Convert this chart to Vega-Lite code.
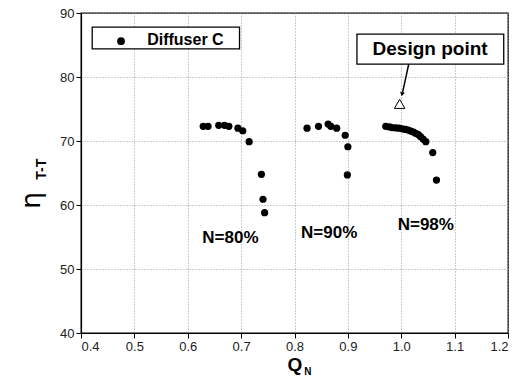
{
  "$schema": "https://vega.github.io/schema/vega-lite/v6.json",
  "width": 427,
  "height": 320,
  "autosize": "none",
  "padding": {"left": 81, "top": 13, "right": 20, "bottom": 55},
  "background": "white",
  "config": {
    "font": "Liberation Sans",
    "view": {"stroke": "black", "strokeWidth": 1.3},
    "axis": {
      "domainColor": "black",
      "domainWidth": 1.2,
      "tickColor": "black",
      "tickSize": 5,
      "labelColor": "#222",
      "labelFont": "Liberation Sans",
      "labelFontSize": 13,
      "gridColor": "#999",
      "gridDash": [1, 2],
      "gridWidth": 1,
      "titleColor": "black"
    }
  },
  "datasets": {
    "pts": [
      {"q": 0.629, "eta": 72.3, "n": "80"},
      {"q": 0.638, "eta": 72.3, "n": "80"},
      {"q": 0.658, "eta": 72.45, "n": "80"},
      {"q": 0.669, "eta": 72.45, "n": "80"},
      {"q": 0.677, "eta": 72.3, "n": "80"},
      {"q": 0.694, "eta": 72.0, "n": "80"},
      {"q": 0.703, "eta": 71.6, "n": "80"},
      {"q": 0.715, "eta": 69.9, "n": "80"},
      {"q": 0.738, "eta": 64.8, "n": "80"},
      {"q": 0.741, "eta": 60.9, "n": "80"},
      {"q": 0.744, "eta": 58.8, "n": "80"},
      {"q": 0.8235, "eta": 72.0, "n": "90"},
      {"q": 0.845, "eta": 72.3, "n": "90"},
      {"q": 0.863, "eta": 72.65, "n": "90"},
      {"q": 0.868, "eta": 72.3, "n": "90"},
      {"q": 0.879, "eta": 72.0, "n": "90"},
      {"q": 0.895, "eta": 70.9, "n": "90"},
      {"q": 0.9, "eta": 69.1, "n": "90"},
      {"q": 0.899, "eta": 64.7, "n": "90"},
      {"q": 0.971, "eta": 72.3, "n": "98"},
      {"q": 0.978, "eta": 72.2, "n": "98"},
      {"q": 0.983, "eta": 72.1, "n": "98"},
      {"q": 0.99, "eta": 72.05, "n": "98"},
      {"q": 0.996, "eta": 72.0, "n": "98"},
      {"q": 1.002, "eta": 71.9, "n": "98"},
      {"q": 1.008, "eta": 71.8, "n": "98"},
      {"q": 1.013, "eta": 71.7, "n": "98"},
      {"q": 1.018, "eta": 71.55, "n": "98"},
      {"q": 1.023, "eta": 71.4, "n": "98"},
      {"q": 1.027, "eta": 71.2, "n": "98"},
      {"q": 1.032, "eta": 71.0, "n": "98"},
      {"q": 1.036, "eta": 70.7, "n": "98"},
      {"q": 1.041, "eta": 70.3, "n": "98"},
      {"q": 1.046, "eta": 69.9, "n": "98"},
      {"q": 1.059, "eta": 68.2, "n": "98"},
      {"q": 1.066, "eta": 63.9, "n": "98"}
    ],
    "nlabels": [
      {"q": 0.68, "eta": 54.8, "label": "N=80%"},
      {"q": 0.865, "eta": 55.6, "label": "N=90%"},
      {"q": 1.046, "eta": 56.9, "label": "N=98%"}
    ],
    "legendbox": [{"q": 0.421, "q2": 0.697, "eta": 87.8, "eta2": 84.4}],
    "legenddot": [{"q": 0.475, "eta": 85.6}],
    "legendtext": [{"q": 0.524, "eta": 85.75, "label": "Diffuser C"}],
    "designbox": [{"q": 0.917, "q2": 1.192, "eta": 86.7, "eta2": 82.0}],
    "designtext": [{"q": 1.054, "eta": 84.3, "label": "Design point"}],
    "arrow": [{"q": 1.014, "eta": 82.0, "q2": 1.0025, "eta2": 77.6}],
    "arrowhead": [{"q": 1.0015, "eta": 77.3}],
    "design": [{"q": 0.997, "eta": 75.8}],
    "subs": [
      {"q": 0.327, "eta": 65.6, "label": "T-T", "angle": 270, "size": 14},
      {"q": 0.825, "eta": 33.9, "label": "N", "angle": 0, "size": 10}
    ]
  },
  "layer": [
    {
      "data": {"name": "pts"},
      "mark": {"type": "circle", "color": "black", "opacity": 1, "size": 52},
      "encoding": {
        "x": {
          "field": "q", "type": "quantitative",
          "scale": {"domain": [0.4, 1.2], "nice": false, "zero": false},
          "axis": {
            "values": [0.4, 0.5, 0.6, 0.7, 0.8, 0.9, 1.0, 1.1, 1.2],
            "format": ".1f",
            "title": "Q",
            "titleFont": "Liberation Sans",
            "titleFontSize": 19,
            "titleFontWeight": "bold",
            "titlePadding": 2,
            "labelPadding": 2
          }
        },
        "y": {
          "field": "eta", "type": "quantitative",
          "scale": {"domain": [40, 90], "nice": false, "zero": false},
          "axis": {
            "values": [40, 50, 60, 70, 80, 90],
            "title": "η",
            "titleFont": "DejaVu Sans",
            "titleFontSize": 27,
            "titleFontWeight": "normal",
            "titleX": -50,
            "titleY": 187,
            "titleAlign": "center",
            "titleBaseline": "middle",
            "labelPadding": 2
          }
        }
      }
    },
    {
      "data": {"name": "legendbox"},
      "mark": {"type": "rect", "fill": "white", "stroke": "black", "strokeWidth": 1.3},
      "encoding": {
        "x": {"field": "q", "type": "quantitative"},
        "x2": {"field": "q2"},
        "y": {"field": "eta", "type": "quantitative"},
        "y2": {"field": "eta2"}
      }
    },
    {
      "data": {"name": "legenddot"},
      "mark": {"type": "circle", "color": "black", "opacity": 1, "size": 60},
      "encoding": {
        "x": {"field": "q", "type": "quantitative"},
        "y": {"field": "eta", "type": "quantitative"}
      }
    },
    {
      "data": {"name": "legendtext"},
      "mark": {"type": "text", "align": "left", "baseline": "middle", "fontSize": 16, "fontWeight": "bold", "font": "Liberation Sans", "color": "black"},
      "encoding": {
        "x": {"field": "q", "type": "quantitative"},
        "y": {"field": "eta", "type": "quantitative"},
        "text": {"field": "label"}
      }
    },
    {
      "data": {"name": "designbox"},
      "mark": {"type": "rect", "fill": "white", "stroke": "black", "strokeWidth": 1.3},
      "encoding": {
        "x": {"field": "q", "type": "quantitative"},
        "x2": {"field": "q2"},
        "y": {"field": "eta", "type": "quantitative"},
        "y2": {"field": "eta2"}
      }
    },
    {
      "data": {"name": "designtext"},
      "mark": {"type": "text", "align": "center", "baseline": "middle", "fontSize": 19, "fontWeight": "bold", "font": "Liberation Sans", "color": "black"},
      "encoding": {
        "x": {"field": "q", "type": "quantitative"},
        "y": {"field": "eta", "type": "quantitative"},
        "text": {"field": "label"}
      }
    },
    {
      "data": {"name": "arrow"},
      "mark": {"type": "rule", "color": "black", "strokeWidth": 1.5},
      "encoding": {
        "x": {"field": "q", "type": "quantitative"},
        "y": {"field": "eta", "type": "quantitative"},
        "x2": {"field": "q2"},
        "y2": {"field": "eta2"}
      }
    },
    {
      "data": {"name": "arrowhead"},
      "mark": {"type": "point", "shape": "triangle-down", "filled": true, "color": "black", "opacity": 1, "size": 22, "angle": 12},
      "encoding": {
        "x": {"field": "q", "type": "quantitative"},
        "y": {"field": "eta", "type": "quantitative"}
      }
    },
    {
      "data": {"name": "design"},
      "mark": {"type": "point", "shape": "triangle-up", "filled": false, "color": "black", "fill": "white", "opacity": 1, "size": 110, "strokeWidth": 1},
      "encoding": {
        "x": {"field": "q", "type": "quantitative"},
        "y": {"field": "eta", "type": "quantitative"}
      }
    },
    {
      "data": {"name": "nlabels"},
      "mark": {"type": "text", "align": "center", "baseline": "middle", "fontSize": 17, "fontWeight": "bold", "font": "Liberation Sans", "color": "black"},
      "encoding": {
        "x": {"field": "q", "type": "quantitative"},
        "y": {"field": "eta", "type": "quantitative"},
        "text": {"field": "label"}
      }
    },
    {
      "data": {"name": "subs"},
      "mark": {"type": "text", "align": "center", "baseline": "middle", "fontWeight": "bold", "font": "Liberation Sans", "color": "black"},
      "encoding": {
        "x": {"field": "q", "type": "quantitative"},
        "y": {"field": "eta", "type": "quantitative"},
        "text": {"field": "label"},
        "angle": {"field": "angle", "type": "quantitative", "scale": null},
        "size": {"field": "size", "type": "quantitative", "scale": null}
      }
    }
  ]
}
